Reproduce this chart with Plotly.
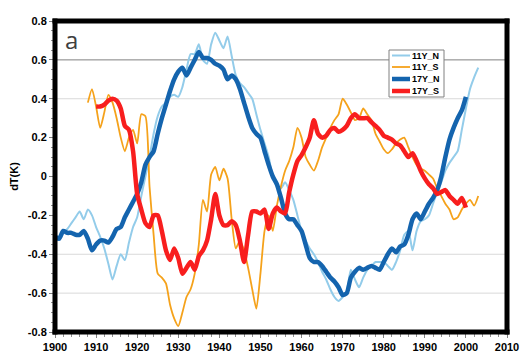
import plotly.graph_objects as go

years_11n = list(range(1900, 2004))
vals_11n = [-0.33, -0.31, -0.29, -0.27, -0.24, -0.21, -0.18, -0.22, -0.17, -0.20,
            -0.26, -0.31, -0.37, -0.45, -0.53, -0.46, -0.40, -0.43, -0.34, -0.26,
            -0.21, -0.10, 0.00, 0.10, 0.22, 0.31, 0.36, 0.38, 0.41, 0.42,
            0.41, 0.46, 0.55, 0.63, 0.63, 0.68, 0.60, 0.58, 0.68, 0.74,
            0.70, 0.66, 0.72, 0.62, 0.52, 0.48, 0.46, 0.43, 0.40, 0.32,
            0.24, 0.17, 0.10, 0.00, -0.05, -0.06, -0.03, -0.07, -0.12, -0.20,
            -0.28, -0.33, -0.37, -0.40, -0.44, -0.49, -0.53, -0.58, -0.62, -0.64,
            -0.62, -0.59, -0.48, -0.53, -0.57, -0.52, -0.48, -0.46, -0.44, -0.44,
            -0.44, -0.46, -0.48, -0.44, -0.38, -0.30, -0.28, -0.38, -0.28, -0.23,
            -0.22, -0.20, -0.14, -0.08, -0.03, 0.03, 0.07, 0.10, 0.13, 0.24,
            0.35, 0.45, 0.51, 0.56]

years_11s = list(range(1908, 2004))
vals_11s = [0.38, 0.45, 0.36, 0.25, 0.33, 0.42, 0.38, 0.30, 0.20, 0.13,
            0.20, 0.24, 0.17, 0.32, 0.31, -0.05, -0.30, -0.50, -0.52, -0.55,
            -0.66, -0.73, -0.77, -0.70, -0.62, -0.58, -0.50, -0.35, -0.12, -0.18,
            0.01, 0.05, -0.02, 0.04, -0.01, -0.22, -0.37, -0.33, -0.38, -0.47,
            -0.58, -0.68, -0.50, -0.28, -0.20, -0.28, -0.15, -0.05, 0.03, 0.08,
            0.15, 0.25, 0.20, 0.10, 0.06, 0.03, 0.08, 0.15, 0.20, 0.25,
            0.29, 0.32, 0.40, 0.37, 0.33, 0.29, 0.30, 0.35, 0.32, 0.29,
            0.22, 0.18, 0.14, 0.12, 0.14, 0.17, 0.19, 0.20, 0.15, 0.10,
            0.06, 0.04, 0.03, 0.01, -0.01, -0.06, -0.10, -0.14, -0.17, -0.22,
            -0.21, -0.17, -0.14, -0.12, -0.15, -0.10]

years_17n = list(range(1900, 2001))
vals_17n = [-0.31, -0.32, -0.28, -0.29, -0.29, -0.30, -0.30, -0.28, -0.32, -0.38,
            -0.35, -0.33, -0.33, -0.34, -0.31, -0.27, -0.26, -0.21, -0.17, -0.13,
            -0.09, -0.03, 0.06, 0.10, 0.13, 0.22, 0.30, 0.37, 0.44, 0.50,
            0.54, 0.56, 0.52, 0.56, 0.60, 0.64, 0.61, 0.61, 0.60, 0.58,
            0.57, 0.55, 0.50, 0.52, 0.50, 0.45, 0.38, 0.31, 0.25, 0.22,
            0.20, 0.13, 0.06, 0.00, -0.04, -0.11, -0.19, -0.22, -0.22, -0.25,
            -0.28, -0.35, -0.42, -0.44, -0.44, -0.46, -0.49, -0.52, -0.54, -0.57,
            -0.61, -0.60, -0.52, -0.49, -0.47, -0.48, -0.47, -0.46, -0.47, -0.48,
            -0.44, -0.40, -0.37, -0.39, -0.36, -0.35, -0.30, -0.22, -0.19, -0.22,
            -0.18, -0.14, -0.11, -0.07, 0.00, 0.10, 0.19, 0.25, 0.30, 0.34,
            0.41]

years_17s = list(range(1910, 2001))
vals_17s = [0.36, 0.36, 0.37, 0.39, 0.40, 0.39, 0.35, 0.26, 0.24, 0.13,
            -0.09, -0.17, -0.24, -0.26, -0.20, -0.20, -0.28, -0.38, -0.43, -0.37,
            -0.42, -0.50, -0.47, -0.44, -0.48, -0.41, -0.38, -0.33, -0.22, -0.09,
            -0.20, -0.25, -0.25, -0.23, -0.25, -0.33, -0.44, -0.30, -0.18, -0.18,
            -0.19, -0.17, -0.27, -0.19, -0.16, -0.18, -0.19, -0.08, 0.01, 0.08,
            0.11, 0.15, 0.20, 0.29, 0.22, 0.20, 0.21, 0.24, 0.25, 0.23,
            0.24, 0.26, 0.30, 0.32, 0.30, 0.30, 0.30, 0.28, 0.26, 0.24,
            0.21, 0.20, 0.19, 0.17, 0.16, 0.13, 0.10, 0.12, 0.08, 0.03,
            -0.01, -0.04, -0.06, -0.09, -0.08, -0.07, -0.10, -0.12, -0.14, -0.11,
            -0.16]

series_names = ["11Y_N", "11Y_S", "17Y_N", "17Y_S"]
series_colors = ["#93CCEA", "#F5A21B", "#1464AE", "#F81E1E"]
series_widths = [2, 1.8, 4.5, 4.5]

x_ticks = list(range(1900, 2011, 10))
y_ticks = [0.8, 0.6, 0.4, 0.2, 0, -0.2, -0.4, -0.6, -0.8]
y_tick_text = ["0.8", "0.6", "0.4", "0.2", "0", "-0.2", "-0.4", "-0.6", "-0.8"]
grid_light = [0.4, -0.4, -0.6]
grid_dark = [0.6]

fig = go.Figure()
all_x = [years_11n, years_11s, years_17n, years_17s]
all_y = [vals_11n, vals_11s, vals_17n, vals_17s]
for xs, ys, nm, col, w in zip(all_x, all_y, series_names, series_colors, series_widths):
    fig.add_trace(go.Scatter(x=xs, y=ys, name=nm, mode="lines", showlegend=False,
                             line=dict(color=col, width=w, shape="spline", smoothing=0.6)))

for g in grid_light:
    fig.add_shape(type="line", xref="paper", yref="y", x0=0, x1=1, y0=g, y1=g,
                  line=dict(color="#D9D9D9", width=1), layer="below")
for g in grid_dark:
    fig.add_shape(type="line", xref="paper", yref="y", x0=0, x1=1, y0=g, y1=g,
                  line=dict(color="#808080", width=1), layer="below")

# page offset (browser body margin) and plot-area geometry
OFF = 8
ML, MT, PW, PH = 47, 13, 452, 311
def px(X):
    return (X - OFF - ML) / PW
def py(Y):
    return (OFF + MT + PH - Y) / PH

# plot frame: four filled black bars, ~5 px thick, centred on the plot edges
FT = 2.5
L, R, T, B = 55, 507, 21, 332
for (xa, xb, ya, yb) in [(L - FT, R + FT, T - FT, T + FT),
                         (L - FT, R + FT, B - FT, B + FT),
                         (L - FT, L + FT, T - FT, B + FT),
                         (R - FT, R + FT, T - FT, B + FT)]:
    fig.add_shape(type="rect", xref="paper", yref="paper",
                  x0=px(xa), x1=px(xb), y0=py(yb), y1=py(ya),
                  fillcolor="#000000", line=dict(width=0), layer="above")

# compact legend box
fig.add_shape(type="rect", xref="paper", yref="paper", x0=px(389), x1=px(444),
              y0=py(97), y1=py(50), line=dict(color="#808080", width=1),
              fillcolor="white", layer="above")
row_y = [55.5, 67, 79, 91]
for ry, nm, col, w in zip(row_y, series_names, series_colors, series_widths):
    fig.add_shape(type="line", xref="paper", yref="paper", x0=px(392), x1=px(410),
                  y0=py(ry), y1=py(ry), line=dict(color=col, width=w), layer="above")
    fig.add_annotation(text=nm, xref="paper", yref="paper", x=px(410), y=py(ry),
                       xanchor="left", yanchor="middle", showarrow=False,
                       font=dict(family="Liberation Sans", size=9, color="#000", weight="bold"))

fig.add_annotation(text="a", xref="paper", yref="paper", x=px(63), y=py(21),
                   xanchor="left", yanchor="top", showarrow=False,
                   font=dict(family="Open Sans", size=24, color="#404040"))

tickfont = dict(family="Liberation Sans", size=11, color="#000000", weight="bold")
fig.update_layout(
    width=532, height=360,
    margin=dict(l=ML, r=532 - ML - PW, t=MT, b=360 - MT - PH, autoexpand=False),
    plot_bgcolor="white", paper_bgcolor="white",
    showlegend=False,
    xaxis=dict(range=[1900, 2010], tickvals=x_ticks, showgrid=False, zeroline=False,
               showline=False, automargin=False,
               ticks="outside", ticklen=5, tickcolor="#808080", tickfont=tickfont,
               minor=dict(dtick=2, ticks="outside", ticklen=4, tickcolor="#909090")),
    yaxis=dict(range=[-0.8, 0.8], tickvals=y_ticks, ticktext=y_tick_text,
               showgrid=False, zeroline=False, automargin=False, showline=False,
               ticks="outside", ticklen=5, tickcolor="#808080", tickfont=tickfont,
               minor=dict(dtick=0.05, ticks="outside", ticklen=3, tickcolor="#909090"),
               title=dict(text="dT(K)", standoff=6,
                          font=dict(family="Liberation Sans", size=11, color="#000", weight="bold"))),
)

fig.write_html("out.html")
